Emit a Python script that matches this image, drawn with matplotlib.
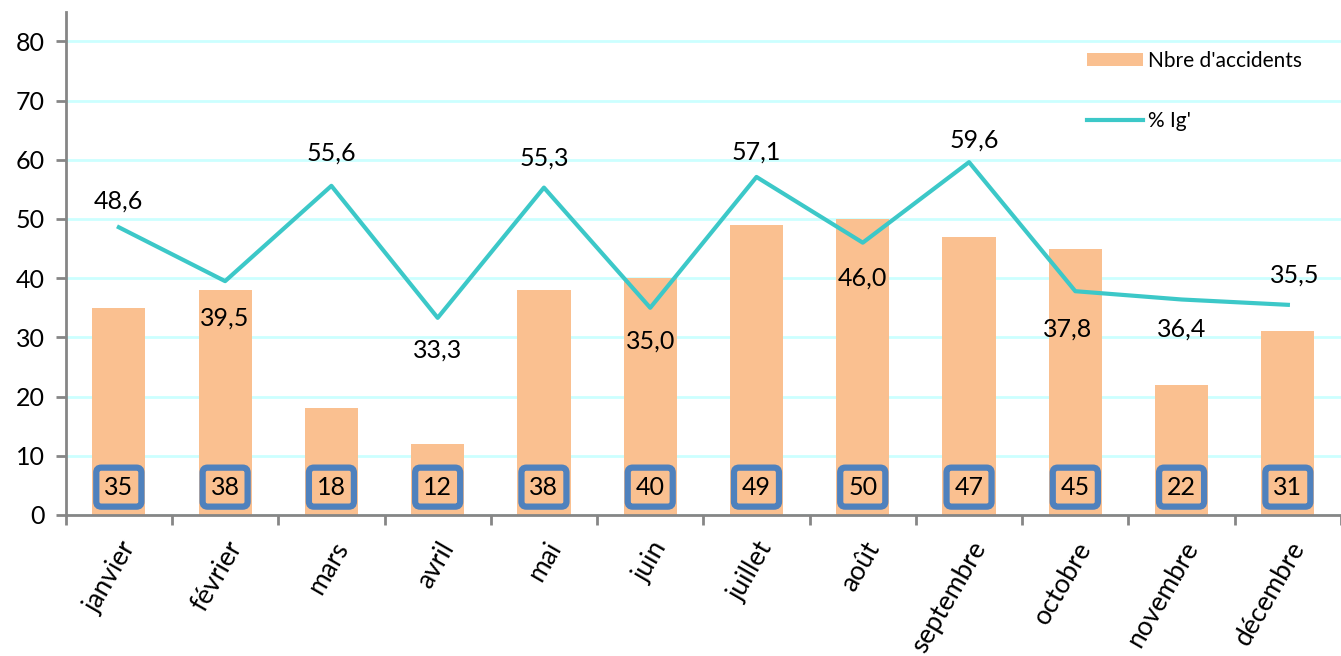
import matplotlib
matplotlib.use("Agg")
import matplotlib.pyplot as plt
from matplotlib.ticker import FixedLocator

months = ['janvier', 'février', 'mars', 'avril', 'mai', 'juin', 'juillet',
          'août', 'septembre', 'octobre', 'novembre', 'décembre']
accidents = [35, 38, 18, 12, 38, 40, 49, 50, 47, 45, 22, 31]
pct_ig = [48.6, 39.5, 55.6, 33.3, 55.3, 35.0, 57.1, 46.0, 59.6, 37.8, 36.4, 35.5]

# label offsets (pixels) for the % labels, as placed in the original
lab_dy = [26, -37, 33, -32, 30, -33, 25, -35, 22, -38, -30, 30]
lab_dx = [0, 0, 0, 0, 0, 0, 0, 0, 5, -8, 0, 7]

bar_color = '#FAC090'
line_color = '#3CC8C8'
box_edge = '#4F81BD'
grid_color = '#CCFFFF'
axis_color = '#868686'

plt.rcParams['font.family'] = ['Lato', 'DejaVu Sans']

fig = plt.figure(figsize=(13.41, 6.56), dpi=100)
ax = fig.add_axes([0.049, 0.215, 0.951, 0.767])

x = list(range(len(months)))
ax.bar(x, accidents, width=0.5, color=bar_color, label="Nbre d'accidents", zorder=2)
ax.plot(x, pct_ig, color=line_color, lw=3, label="% Ig'", zorder=3)

# count labels in boxes near the bottom
for xi, v in zip(x, accidents):
    ax.text(xi, 4.7, str(v), ha='center', va='center', fontsize=18, zorder=4,
            bbox=dict(boxstyle='round,pad=0.32,rounding_size=0.2', fc=bar_color,
                      ec=box_edge, lw=4.5))

# percentage labels
for xi, v, dx, dy in zip(x, pct_ig, lab_dx, lab_dy):
    txt = f'{v:.1f}'.replace('.', ',')
    ax.annotate(txt, (xi, v), xytext=(dx * 0.72, dy * 0.72), textcoords='offset points',
                ha='center', va='center', fontsize=18, zorder=5)

ax.set_xlim(-0.5, 11.5)
ax.set_ylim(0, 85)
ax.set_yticks(range(0, 81, 10))
ax.tick_params(axis='y', labelsize=18, length=7, width=2, color=axis_color, pad=8)
ax.yaxis.grid(True, color=grid_color, lw=2, zorder=0)
ax.set_axisbelow(True)

ax.xaxis.set_major_locator(FixedLocator([i - 0.5 for i in range(13)]))
ax.xaxis.set_minor_locator(FixedLocator(x))
ax.set_xticklabels([], minor=False)
ax.set_xticklabels(months, minor=True, rotation=60, ha='right',
                   rotation_mode='anchor', fontsize=19)
ax.tick_params(axis='x', which='major', direction='out', length=7, width=2,
               color=axis_color)
ax.tick_params(axis='x', which='minor', length=0, pad=16)

for s in ['top', 'right']:
    ax.spines[s].set_visible(False)
for s in ['left', 'bottom']:
    ax.spines[s].set_color(axis_color)
    ax.spines[s].set_linewidth(2)

handles, labels = ax.get_legend_handles_labels()
order = [labels.index("Nbre d'accidents"), labels.index("% Ig'")]
ax.legend([handles[i] for i in order], [labels[i] for i in order],
          loc='upper left', bbox_to_anchor=(0.786, 0.96), frameon=False,
          fontsize=15, labelspacing=1.95, handlelength=2.7, handleheight=0.6,
          handletextpad=0.25)

fig.savefig('out.png', dpi=100)
